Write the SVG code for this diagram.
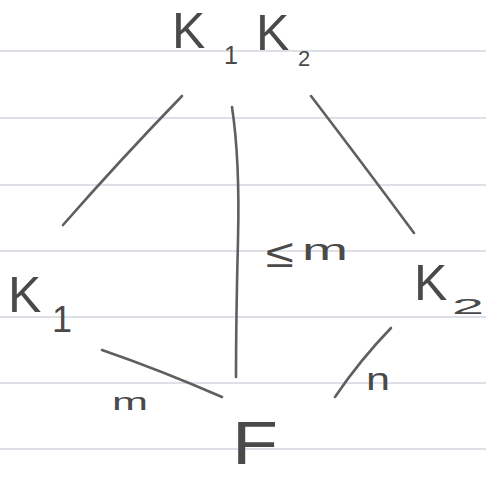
<svg xmlns="http://www.w3.org/2000/svg" width="486" height="479" viewBox="0 0 486 479">
<style>
.rule{stroke:#d3d6e0;stroke-width:1.4}
.edge{fill:none;stroke:#5f5f5f;stroke-width:2.6;stroke-linecap:round;stroke-linejoin:round}
.t{font-family:"Liberation Sans","DejaVu Sans",sans-serif;fill:#4a4a4a}
</style>
<rect width="486" height="479" fill="#ffffff"/>
<g id="paper">
<line class="rule" x1="0" y1="51" x2="486" y2="51"/>
<line class="rule" x1="0" y1="118" x2="486" y2="118"/>
<line class="rule" x1="0" y1="185" x2="486" y2="185"/>
<line class="rule" x1="0" y1="251" x2="486" y2="251"/>
<line class="rule" x1="0" y1="317" x2="486" y2="317"/>
<line class="rule" x1="0" y1="383" x2="486" y2="383"/>
<line class="rule" x1="0" y1="449" x2="486" y2="449"/>
</g>
<g id="connectors">
<path class="edge" d="M182,96 Q120,160 63,225"/>
<path class="edge" d="M311,96 Q360,160 414,233"/>
<path class="edge" d="M232,107 Q240,160 238,240 Q236,320 236,377"/>
<path class="edge" d="M102,350 Q160,370 222,397"/>
<path class="edge" d="M391,328 Q360,360 335,397"/>
</g>
<g id="node-K1K2">
<text class="t" x="172" y="48" font-size="50">K</text>
<text class="t" x="224" y="64" font-size="25">1</text>
<text class="t" x="256" y="50" font-size="50">K</text>
<text class="t" x="298" y="66" font-size="22">2</text>
</g>
<g id="node-K1">
<text class="t" x="8" y="312" font-size="50">K</text>
<text class="t" x="52" y="332" font-size="36">1</text>
</g>
<g id="node-K2">
<text class="t" x="414" y="300" font-size="50">K</text>
<text class="t" x="452" y="314" font-size="22" textLength="32" lengthAdjust="spacingAndGlyphs">2</text>
</g>
<g id="node-F">
<text class="t" x="232" y="464" font-size="62" textLength="46" lengthAdjust="spacingAndGlyphs">F</text>
</g>
<g id="edge-labels">
<text class="t" x="266" y="267" font-size="40" textLength="28" lengthAdjust="spacingAndGlyphs">≤</text>
<text class="t" x="302" y="260" font-size="30" textLength="46" lengthAdjust="spacingAndGlyphs">m</text>
<text class="t" x="112" y="410" font-size="24" textLength="36" lengthAdjust="spacingAndGlyphs">m</text>
<text class="t" x="366" y="390" font-size="32" textLength="24" lengthAdjust="spacingAndGlyphs">n</text>
</g>
</svg>
